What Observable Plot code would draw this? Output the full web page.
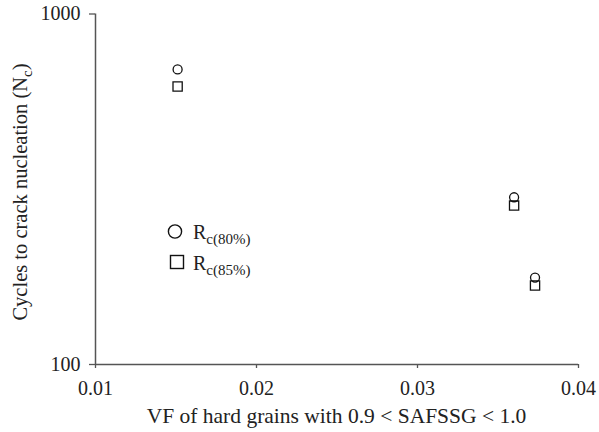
<!DOCTYPE html>
<html>
<head>
<meta charset="utf-8">
<script src="https://cdn.jsdelivr.net/npm/d3@7"></script>
<script src="https://cdn.jsdelivr.net/npm/@observablehq/plot@0.6"></script>
<style>
  html, body { margin: 0; padding: 0; background: #fff; }
  #chart { position: relative; width: 599px; height: 432px; }
</style>
</head>
<body>
<div id="chart"></div>
<script>
// Data
const vf = [0.0151, 0.0360, 0.0373];
const cycles80 = [695, 300, 177];
const cycles85 = [621, 284, 168];
const seriesNames = ["c(80%)", "c(85%)"];
const xTicks = [0.01, 0.02, 0.03, 0.04];
const yTicks = [100, 1000];
const xLabel = "VF of hard grains with 0.9 < SAFSSG < 1.0";
const yLabelMain = "Cycles to crack nucleation (N";
const yLabelSub = "c";

const d80 = vf.map((x, i) => ({x, y: cycles80[i]}));
const d85 = vf.map((x, i) => ({x, y: cycles85[i]}));

const axisColor = "#555";
const W = 599, H = 432;
const mL = 95, mR = 21, mT = 13.5, mB = 68;
const font = "'Liberation Serif', 'Times New Roman', serif";

const plot = Plot.plot({
  width: W, height: H,
  marginLeft: mL, marginRight: mR, marginTop: mT, marginBottom: mB,
  style: {fontFamily: font, fontSize: "20px", color: "#222", background: "#fff", overflow: "visible"},
  x: {domain: [0.01, 0.04]},
  y: {type: "log", domain: [100, 1000]},
  marks: [
    Plot.axisX({ticks: xTicks, tickFormat: d => String(d), tickSize: 4, tickPadding: 12, label: null, stroke: axisColor, strokeWidth: 1.3, fill: "#222"}),
    Plot.axisY({ticks: yTicks, tickFormat: d => String(d), tickSize: 6, tickPadding: 9, label: null, stroke: axisColor, strokeWidth: 1.3, fill: "#222"}),
    Plot.ruleY([100], {stroke: axisColor, strokeWidth: 1.5}),
    Plot.ruleX([0.01], {stroke: axisColor, strokeWidth: 1.5}),
    Plot.dot(d80, {x: "x", y: "y", symbol: "circle", r: 4.5, stroke: "#111", strokeWidth: 1.3, fill: "none"}),
    Plot.dot(d85, {x: "x", y: "y", symbol: "square", r: 5.2, stroke: "#111", strokeWidth: 1.3, fill: "none"})
  ]
});
document.getElementById("chart").appendChild(plot);

const svg = d3.select(plot);

// X axis label
svg.append("text")
  .attr("x", (mL + (W - mR)) / 2).attr("y", 423)
  .attr("text-anchor", "middle").attr("font-family", font).attr("font-size", 21.5).attr("fill", "#222")
  .text(xLabel);

// Y axis label
const yl = svg.append("text")
  .attr("transform", `translate(27,192) rotate(-90)`)
  .attr("text-anchor", "middle").attr("font-family", font).attr("font-size", 20.5).attr("fill", "#222");
yl.append("tspan").text(yLabelMain);
yl.append("tspan").attr("font-size", 15).attr("dy", 5).text(yLabelSub);
yl.append("tspan").attr("dy", -5).text(")");

// Legend
const lg = svg.append("g").attr("font-family", font).attr("fill", "#222");
lg.append("circle").attr("cx", 175).attr("cy", 231.5).attr("r", 6.6).attr("fill", "none").attr("stroke", "#111").attr("stroke-width", 1.4);
lg.append("rect").attr("x", 170.5).attr("y", 255.5).attr("width", 13).attr("height", 13).attr("fill", "none").attr("stroke", "#111").attr("stroke-width", 1.4);
seriesNames.forEach((s, i) => {
  const t = lg.append("text").attr("x", 193).attr("y", 239 + i * 30.5).attr("font-size", 20).attr("text-anchor", "start");
  t.append("tspan").text("R");
  t.append("tspan").attr("font-size", 15).attr("dy", 5).text(s);
});
</script>
</body>
</html>
